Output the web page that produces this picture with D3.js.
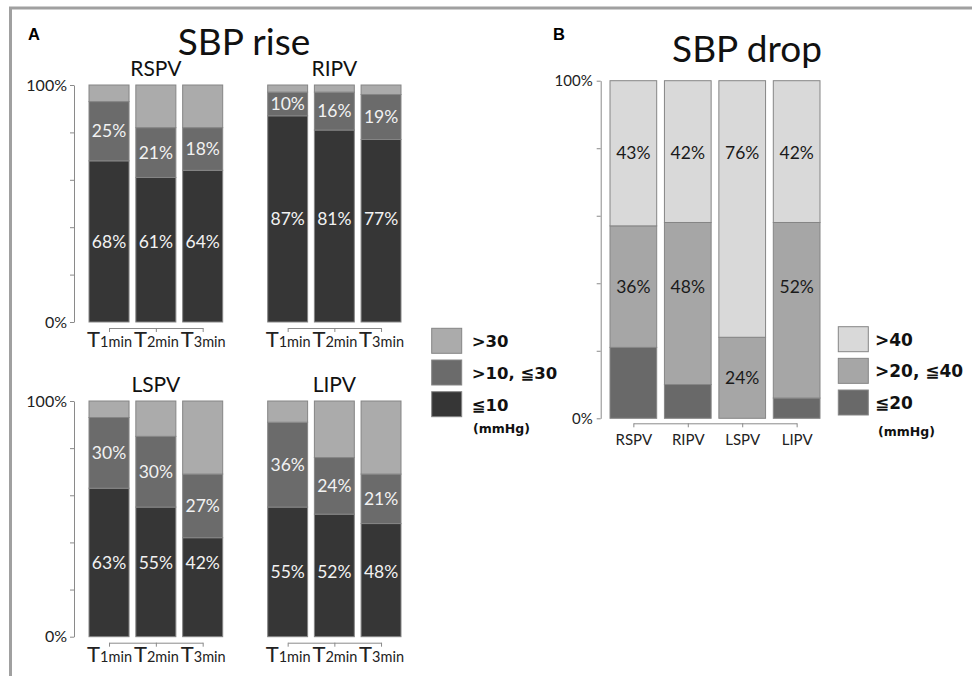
<!DOCTYPE html>
<html>
<head>
<meta charset="utf-8">
<script src="https://cdn.jsdelivr.net/npm/d3@7"></script>
<style>
  html, body { margin: 0; padding: 0; background: #fff; }
  svg { display: block; }
</style>
</head>
<body>
<svg id="chart" width="972" height="676"></svg>
<script>
// ---- SBP rise: share of patients per vein and time point (%) ----
const riseVeins = ["RSPV", "RIPV", "LSPV", "LIPV"];
const riseTimes = ["1min", "2min", "3min"];
const riseSeries = ["≦10", ">10, ≦30", ">30"];          // stacked bottom → top
const riseLe10   = [[68, 61, 64], [87, 81, 77], [63, 55, 42], [55, 52, 48]];
const rise10to30 = [[25, 21, 18], [10, 16, 19], [30, 30, 27], [36, 24, 21]];
const riseGt30   = [[7, 18, 18], [3, 3, 4], [7, 15, 31], [9, 24, 31]];

// ---- SBP drop: share of patients per vein (%) ----
const dropVeins = ["RSPV", "RIPV", "LSPV", "LIPV"];
const dropSeries = ["≦20", ">20, ≦40", ">40"];          // stacked bottom → top
const dropLe20   = [21, 10, 0, 6];
const drop20to40 = [36, 48, 24, 52];
const dropGt40   = [43, 42, 76, 42];

const yTicks = [0, 20, 40, 60, 80, 100];
const unitLabel = "(mmHg)";

const riseColors = ["#363636", "#6b6b6b", "#ababab"];
const dropColors = ["#696969", "#a6a6a6", "#d9d9d9"];

const FONT = "Lato, 'Open Sans', sans-serif";
const BOLD = "'DejaVu Sans', Verdana, sans-serif";

const svg = d3.select("#chart");

// outer frame (top and left rule)
svg.append("path")
  .attr("d", "M10.5,676 V8 H972")
  .attr("fill", "none").attr("stroke", "#a0a0a0").attr("stroke-width", 3);

// Draws one stacked 100% bar group.
function stackedGroup(o) {
  const g = svg.append("g");
  const data = o.categories.map((c, i) => {
    const row = { cat: c };
    o.keys.forEach((k, j) => { row[k] = o.values[j][i]; });
    return row;
  });
  const stacked = d3.stack().keys(o.keys)(data);

  const x = d3.scaleBand().domain(o.categories).range(o.xRange)
    .paddingInner(o.pad).paddingOuter(0);
  const y = d3.scaleLinear().domain([0, 100]).range(o.yRange);
  const bw = x.bandwidth();

  // bars
  g.selectAll("g.series").data(stacked).join("g")
    .attr("fill", (d, i) => o.colors[i])
    .selectAll("rect").data(d => d).join("rect")
    .attr("x", d => x(d.data.cat))
    .attr("y", d => y(d[1]))
    .attr("width", bw)
    .attr("height", d => Math.max(0, y(d[0]) - y(d[1])))
    .attr("stroke", "#858585").attr("stroke-width", 1);

  // value labels: kept level with the first bar's label while it fits the segment
  o.labelSeries.forEach(si => {
    const s = stacked[si];
    const anchor = (s[0][0] + s[0][1]) / 2;
    s.forEach(seg => {
      const v = seg[1] - seg[0];
      if (v <= 0) return;
      const pos = (anchor >= seg[0] + 8 && anchor <= seg[1] - 8) ? anchor : (seg[0] + seg[1]) / 2;
      g.append("text")
        .attr("x", x(seg.data.cat) + bw / 2)
        .attr("y", y(pos))
        .attr("dy", "0.35em")
        .attr("text-anchor", "middle")
        .attr("font-family", FONT).attr("font-size", o.labelSize)
        .attr("fill", o.labelColor)
        .text(v + "%");
    });
  });

  // y axis
  if (o.yAxis) {
    const ax = g.append("g")
      .attr("transform", `translate(${o.xRange[0] - o.axisGap},0)`)
      .call(d3.axisLeft(y).tickValues(yTicks).tickSize(4).tickSizeOuter(0)
        .tickPadding(o.tickPad)
        .tickFormat(d => (d === 0 || d === 100) ? d + "%" : ""));
    ax.select(".domain").attr("stroke", "#8a8a8a");
    ax.selectAll(".tick line").attr("stroke", "#8a8a8a");
    ax.selectAll("text").attr("font-family", FONT).attr("font-size", o.tickSize)
      .attr("fill", "#222");
  }

  // category bracket under the bars
  const first = o.categories[0], last = o.categories[o.categories.length - 1];
  const pt = d3.scalePoint().domain(o.categories)
    .range([x(first) + bw / 2, x(last) + bw / 2]);
  const xa = g.append("g")
    .attr("transform", `translate(0,${o.yRange[0] + o.bracketGap})`)
    .call(d3.axisBottom(pt).tickSize(4).tickSizeOuter(0));
  xa.select(".domain").attr("stroke", "#8a8a8a");
  xa.selectAll(".tick line").attr("stroke", "#8a8a8a");
  const tx = xa.selectAll("text")
    .attr("y", o.catBaseline).attr("dy", 0)
    .attr("font-family", FONT).attr("fill", "#222");
  if (o.timeLabels) {
    tx.text(null).each(function (d) {
      const t = d3.select(this);
      t.append("tspan").attr("font-size", 22).text("T");
      t.append("tspan").attr("font-size", 14.5).text(d.replace(/^\D*/, ""));
    });
  } else {
    tx.attr("font-size", o.catSize);
  }

  // subplot title
  if (o.title) {
    g.append("text")
      .attr("x", (o.xRange[0] + o.xRange[1]) / 2)
      .attr("y", o.yRange[1] - 9)
      .attr("text-anchor", "middle")
      .attr("font-family", FONT).attr("font-size", 21).attr("fill", "#111")
      .text(o.title);
  }
}

// ---------- Panel A ----------
svg.append("text").attr("x", 28).attr("y", 40)
  .attr("font-family", "'Liberation Sans', Arial, sans-serif")
  .attr("font-weight", "bold").attr("font-size", 16.5).text("A");
svg.append("text").attr("x", 244).attr("y", 55).attr("text-anchor", "middle")
  .attr("font-family", FONT).attr("font-size", 37).attr("fill", "#111").text("SBP rise");

const riseRows = [[322, 85], [636.7, 401]];
const riseCols = [[89, 222.7], [267.7, 401]];
riseVeins.forEach((vein, vi) => {
  const r = Math.floor(vi / 2), c = vi % 2;
  stackedGroup({
    categories: riseTimes.map(t => "T" + t),
    keys: riseSeries,
    values: [riseLe10[vi], rise10to30[vi], riseGt30[vi]],
    colors: riseColors,
    xRange: riseCols[c],
    yRange: riseRows[r],
    pad: 0.145,
    labelSeries: [0, 1],
    labelColor: "#f2f2f2",
    labelSize: 17.5,
    yAxis: c === 0,
    axisGap: 15,
    tickPad: 3,
    tickSize: 16,
    bracketGap: 6,
    catBaseline: 19,
    timeLabels: true,
    title: vein
  });
});

// legend A
const legA = svg.append("g");
riseSeries.slice().reverse().forEach((s, i) => {
  const yy = 328.3 + i * 31.7;
  legA.append("rect").attr("x", 431.7).attr("y", yy).attr("width", 30).attr("height", 25)
    .attr("fill", riseColors[riseSeries.length - 1 - i]).attr("stroke", "#858585");
  legA.append("text").attr("x", 471.7).attr("y", yy + 19)
    .attr("font-family", BOLD).attr("font-weight", "bold").attr("font-size", 16.5)
    .attr("fill", "#111").text(s);
});
legA.append("text").attr("x", 473).attr("y", 433)
  .attr("font-family", BOLD).attr("font-weight", "bold").attr("font-size", 12.5)
  .attr("fill", "#111").text(unitLabel);

// ---------- Panel B ----------
svg.append("text").attr("x", 553).attr("y", 40)
  .attr("font-family", "'Liberation Sans', Arial, sans-serif")
  .attr("font-weight", "bold").attr("font-size", 16.5).text("B");
svg.append("text").attr("x", 747).attr("y", 62).attr("text-anchor", "middle")
  .attr("font-family", FONT).attr("font-size", 37).attr("fill", "#111").text("SBP drop");

stackedGroup({
  categories: dropVeins,
  keys: dropSeries,
  values: [dropLe20, drop20to40, dropGt40],
  colors: dropColors,
  xRange: [610, 820],
  yRange: [418.3, 80.7],
  pad: 0.142,
  labelSeries: [1, 2],
  labelColor: "#1a1a1a",
  labelSize: 17.5,
  yAxis: true,
  axisGap: 9.3,
  tickPad: 4,
  tickSize: 15,
  bracketGap: 5,
  catBaseline: 22,
  catSize: 15,
  timeLabels: false,
  title: null
});

// legend B
const legB = svg.append("g");
dropSeries.slice().reverse().forEach((s, i) => {
  const yy = 326.7 + i * 31.65;
  legB.append("rect").attr("x", 838.3).attr("y", yy).attr("width", 30).attr("height", 25)
    .attr("fill", dropColors[dropSeries.length - 1 - i]).attr("stroke", "#858585");
  legB.append("text").attr("x", 875).attr("y", yy + 19)
    .attr("font-family", BOLD).attr("font-weight", "bold").attr("font-size", 17)
    .attr("fill", "#111").text(s);
});
legB.append("text").attr("x", 878).attr("y", 436)
  .attr("font-family", BOLD).attr("font-weight", "bold").attr("font-size", 12.5)
  .attr("fill", "#111").text(unitLabel);
</script>
</body>
</html>
